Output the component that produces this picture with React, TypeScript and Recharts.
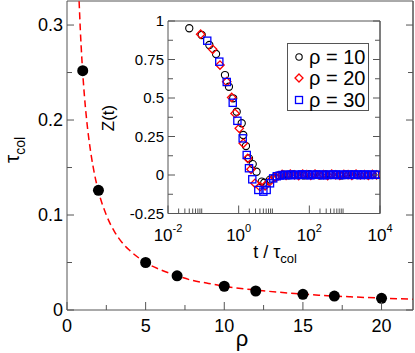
import React from "react";
import { ComposedChart, Scatter, Line, XAxis, YAxis, ReferenceLine } from "recharts";

const FONT = "'Liberation Sans', Arial, sans-serif";
const AXIS = "#555";

// main panel: collision time vs density
const rho = [1, 2, 5, 7, 10, 12, 15, 17, 20];
const tauCol = [0.252, 0.126, 0.05, 0.036, 0.025, 0.02, 0.0165, 0.0147, 0.0123];
const fitRho = [0.77, 0.85, 0.95, 1.1, 1.25, 1.5, 1.75, 2, 2.5, 3, 3.5, 4, 5, 6, 7, 8, 9, 10, 12, 14, 16, 18, 20, 22];
const fitTau = [0.325, 0.294, 0.263, 0.227, 0.2, 0.167, 0.143, 0.125, 0.1, 0.083, 0.071, 0.0625, 0.05, 0.042, 0.036, 0.031, 0.028, 0.025, 0.021, 0.018, 0.0156, 0.0139, 0.0125, 0.0114];
const mainXTicks = [0, 2.5, 5, 7.5, 10, 12.5, 15, 17.5, 20];
const mainYTicks = [0, 0.05, 0.1, 0.15, 0.2, 0.25, 0.3];
const Y_MAX = 0.3253;
const X_MAX = 22;

// inset: Z(t) for three densities
const t10 = [0.04, 0.09, 0.148, 0.229, 0.41, 0.53, 0.7, 0.88, 1.22, 1.35, 1.61, 1.96, 2.5, 3.2, 4.5, 5.3, 7.7, 10.7, 14, 19, 26, 36, 50, 70, 100, 140, 200, 290, 400, 560, 800, 1100, 1600, 2200, 3100, 4400, 6200, 8500];
const z10 = [0.953, 0.909, 0.844, 0.786, 0.649, 0.573, 0.498, 0.411, 0.336, 0.26, 0.188, 0.108, 0.071, 0.021, -0.043, -0.05, -0.03, -0.012, -0.004, 0.003, -0.002, 0.004, 0.001, -0.003, 0.005, 0.002, -0.002, 0.004, 0.0, 0.003, -0.003, 0.002, 0.004, -0.001, 0.003, 0.0, 0.002, 0.001];
const t20 = [0.084, 0.184, 0.296, 0.46, 0.635, 0.79, 1.04, 1.35, 1.8, 2.23, 2.9, 4.0, 5.6, 7.7, 10.7, 13, 17, 22, 29, 38, 50, 65, 85, 110, 145, 190, 250, 330, 430, 560, 730, 950, 1250, 1600, 2100, 2800, 3600, 4700, 6100, 8000];
const z20 = [0.914, 0.816, 0.714, 0.606, 0.504, 0.4, 0.303, 0.206, 0.108, 0.037, -0.054, -0.076, -0.07, -0.04, -0.015, -0.006, 0.004, -0.003, 0.006, 0.001, -0.004, 0.005, 0.002, -0.002, 0.006, 0.0, 0.003, -0.004, 0.005, 0.001, -0.002, 0.004, 0.002, -0.003, 0.005, 0.0, 0.003, -0.002, 0.004, 0.001];
const t30 = [0.129, 0.283, 0.46, 0.68, 0.92, 1.3, 1.69, 1.96, 2.43, 3.6, 5.0, 6.2, 7.7, 9.5, 12, 14.5, 17.5, 21, 25, 30, 36, 43, 52, 62, 75, 90, 108, 130, 156, 187, 225, 270, 324, 389, 467, 560, 672, 806, 968, 1160, 1390, 1670, 2000, 2400, 2890, 3470, 4160, 5000, 6000, 7200, 8600];
const z30 = [0.872, 0.736, 0.604, 0.469, 0.352, 0.238, 0.13, 0.044, -0.028, -0.097, -0.108, -0.097, -0.054, -0.022, -0.008, -0.004, 0.0, 0.002, -0.002, 0.003, 0.001, -0.001, 0.002, 0.004, 0.0, 0.002, -0.002, 0.003, 0.001, 0.004, 0.0, -0.002, 0.003, 0.002, 0.0, 0.004, 0.001, -0.001, 0.003, 0.002, 0.0, 0.003, 0.001, 0.004, -0.001, 0.002, 0.003, 0.0, 0.002, 0.001, 0.002];
const insetXMajor = [0.01, 1, 100, 10000];
const insetXMinor = [0.02, 0.03, 0.04, 0.05, 0.06, 0.07, 0.08, 0.09, 2, 3, 4, 5, 6, 7, 8, 9, 200, 300, 400, 500, 600, 700, 800, 900];
const insetYTicks = [-0.25, -0.125, 0, 0.125, 0.25, 0.375, 0.5, 0.625, 0.75, 0.875, 1];
const insetYLabels: Record<string, string> = { "-0.25": "-0.25", "0": "0", "0.25": "0.25", "0.5": "0.5", "0.75": "0.75", "1": "1" };

const zip = (xs: number[], ys: number[]) => xs.map((x, i) => ({ x, y: ys[i] }));
const dotData = zip(rho, tauCol);
const fitData = zip(fitRho, fitTau);
const s10 = zip(t10, z10);
const s20 = zip(t20, z20);
const s30 = zip(t30, z30);

const MainXTick = ({ x, y, payload }: any) => {
  const major = payload.value % 5 === 0;
  return (
    <g>
      <line x1={x} x2={x} y1={y} y2={y - (major ? 8 : 5)} stroke={AXIS} />
      {major && (
        <text x={x} y={y + 22} textAnchor="middle" fontSize={18} fontFamily={FONT} fill="#000">
          {payload.value}
        </text>
      )}
    </g>
  );
};

const MainYTick = ({ x, y, payload }: any) => {
  const major = Math.round(payload.value * 100) % 10 === 0;
  return (
    <g>
      <line x1={x} x2={x + (major ? 7 : 5)} y1={y} y2={y} stroke={AXIS} />
      {major && (
        <text x={x - 4} y={y} dy="0.35em" textAnchor="end" fontSize={18} fontFamily={FONT} fill="#000">
          {payload.value}
        </text>
      )}
    </g>
  );
};

const MainRightTick = ({ x, y, payload }: any) => {
  const major = Math.round(payload.value * 100) % 10 === 0;
  return <line x1={x} x2={x - (major ? 7 : 5)} y1={y} y2={y} stroke={AXIS} />;
};

const InsetXTick = ({ x, y, payload }: any) => {
  const lg = Math.log10(payload.value);
  const major = Math.abs(lg - Math.round(lg)) < 1e-6 && Math.round(lg) % 2 === 0;
  return (
    <g>
      <line x1={x} x2={x} y1={y} y2={y - (major ? 8 : 5)} stroke={AXIS} />
      {major && (
        <text x={x} y={y + 27} textAnchor="middle" fontSize={17} fontFamily={FONT} fill="#000">
          10
          <tspan dy={-9} fontSize={11}>
            {Math.round(lg)}
          </tspan>
        </text>
      )}
    </g>
  );
};

const InsetYTick = ({ x, y, payload }: any) => {
  const label = insetYLabels[String(payload.value)];
  return (
    <g>
      <line x1={x} x2={x + (label ? 7 : 5)} y1={y} y2={y} stroke={AXIS} />
      {label && (
        <text x={x - 4} y={y} dy="0.35em" textAnchor="end" fontSize={15} fontFamily={FONT} fill="#000">
          {label}
        </text>
      )}
    </g>
  );
};

const InsetRightTick = ({ x, y, payload }: any) => {
  const label = insetYLabels[String(payload.value)];
  return <line x1={x} x2={x - (label ? 7 : 5)} y1={y} y2={y} stroke={AXIS} />;
};

const BigDot = (p: any) => <circle cx={p.cx} cy={p.cy} r={5.5} fill="#000" />;
const OpenCircle = (p: any) => <circle cx={p.cx} cy={p.cy} r={3.6} fill="none" stroke="#000" strokeWidth={1.1} />;
const OpenDiamond = (p: any) => (
  <path
    d={`M${p.cx},${p.cy - 4.2}L${p.cx + 4.2},${p.cy}L${p.cx},${p.cy + 4.2}L${p.cx - 4.2},${p.cy}Z`}
    fill="none"
    stroke="#ff0000"
    strokeWidth={1.3}
  />
);
const OpenSquare = (p: any) => (
  <rect x={p.cx - 3.6} y={p.cy - 3.6} width={7.2} height={7.2} fill="none" stroke="#0000ff" strokeWidth={1.3} />
);
const Nothing = () => <g />;

const legendRows = [
  { label: "ρ = 10", symbol: <circle cx={6} cy={6} r={3.2} fill="none" stroke="#000" strokeWidth={1.1} /> },
  { label: "ρ = 20", symbol: <path d="M6,2L10,6L6,10L2,6Z" fill="none" stroke="#ff0000" strokeWidth={1.3} /> },
  { label: "ρ = 30", symbol: <rect x={2.5} y={2.5} width={7} height={7} fill="none" stroke="#0000ff" strokeWidth={1.3} /> },
];

export default function App() {
  return (
    <div style={{ position: "absolute", left: 0, top: 0, width: 415, height: 353, background: "#fff", fontFamily: FONT }}>
      <div style={{ position: "absolute", left: 0, top: 0 }}>
        <ComposedChart width={415} height={353} margin={{ top: 1, right: 1, left: 7, bottom: 0 }}>
          <XAxis
            type="number"
            dataKey="x"
            domain={[0, X_MAX]}
            ticks={mainXTicks}
            interval={0}
            height={43}
            tick={<MainXTick />}
            tickLine={false}
            tickSize={0}
            tickMargin={0}
            stroke={AXIS}
            allowDataOverflow
          />
          <YAxis
            type="number"
            dataKey="y"
            domain={[0, Y_MAX]}
            ticks={mainYTicks}
            interval={0}
            width={60}
            tick={<MainYTick />}
            tickLine={false}
            tickSize={0}
            tickMargin={0}
            stroke={AXIS}
            allowDataOverflow
          />
          <YAxis
            yAxisId="r"
            orientation="right"
            type="number"
            domain={[0, Y_MAX]}
            ticks={mainYTicks}
            interval={0}
            width={1}
            tick={<MainRightTick />}
            tickLine={false}
            tickSize={0}
            tickMargin={0}
            stroke={AXIS}
            allowDataOverflow
          />
          <ReferenceLine y={Y_MAX} stroke={AXIS} />
          <ReferenceLine x={X_MAX} stroke={AXIS} />
          <Scatter yAxisId="r" data={dotData} dataKey="y" shape={<Nothing />} isAnimationActive={false} />
          <Scatter data={dotData} dataKey="y" shape={<BigDot />} isAnimationActive={false} />
          <Line
            data={fitData}
            dataKey="y"
            type="monotone"
            stroke="#ff0000"
            strokeWidth={1.5}
            strokeDasharray="7 4"
            dot={false}
            activeDot={false}
            isAnimationActive={false}
          />
        </ComposedChart>
      </div>

      <div style={{ position: "absolute", left: 95, top: 5 }}>
        <ComposedChart width={300} height={260} margin={{ top: 16, right: 14, left: 0, bottom: 0 }}>
          <XAxis
            type="number"
            dataKey="x"
            scale="log"
            domain={[0.01, 10000]}
            ticks={[...insetXMajor, ...insetXMinor]}
            interval={0}
            height={51.5}
            tick={<InsetXTick />}
            tickLine={false}
            tickSize={0}
            tickMargin={0}
            stroke={AXIS}
            allowDataOverflow
          />
          <YAxis
            type="number"
            dataKey="y"
            domain={[-0.25, 1]}
            ticks={insetYTicks}
            interval={0}
            width={73}
            tick={<InsetYTick />}
            tickLine={false}
            tickSize={0}
            tickMargin={0}
            stroke={AXIS}
            allowDataOverflow
          />
          <YAxis
            yAxisId="r"
            orientation="right"
            type="number"
            domain={[-0.25, 1]}
            ticks={insetYTicks}
            interval={0}
            width={1}
            tick={<InsetRightTick />}
            tickLine={false}
            tickSize={0}
            tickMargin={0}
            stroke={AXIS}
            allowDataOverflow
          />
          <ReferenceLine y={1} stroke={AXIS} />
          <ReferenceLine x={10000} stroke={AXIS} />
          <Scatter yAxisId="r" data={s10} dataKey="y" shape={<Nothing />} isAnimationActive={false} />
          <Scatter data={s10} dataKey="y" shape={<OpenCircle />} isAnimationActive={false} />
          <Scatter data={s20} dataKey="y" shape={<OpenDiamond />} isAnimationActive={false} />
          <Scatter data={s30} dataKey="y" shape={<OpenSquare />} isAnimationActive={false} />
        </ComposedChart>
      </div>

      <div
        style={{
          position: "absolute",
          left: 287,
          top: 43,
          width: 82,
          height: 68,
          border: `1px solid ${AXIS}`,
          background: "#fff",
          boxSizing: "border-box",
          paddingTop: 2,
        }}
      >
        {legendRows.map((r) => (
          <div key={r.label} style={{ display: "flex", alignItems: "center", height: 21.5, fontSize: 20, color: "#000" }}>
            <svg width={12} height={12} style={{ marginLeft: 5, marginRight: 4 }}>
              {r.symbol}
            </svg>
            <span style={{ lineHeight: "20px" }}>{r.label}</span>
          </div>
        ))}
      </div>

      <svg width={415} height={353} style={{ position: "absolute", left: 0, top: 0, pointerEvents: "none" }}>
        <text transform="translate(19,150) rotate(-90)" textAnchor="middle" fontSize={21} fontFamily={FONT} fill="#000">
          τ
          <tspan dy={6} fontSize={14}>
            col
          </tspan>
        </text>
        <text x={242} y={346} textAnchor="middle" fontSize={22} fontFamily={FONT} fill="#000">
          ρ
        </text>
        <text transform="translate(114,118) rotate(-90)" textAnchor="middle" fontSize={17} fontFamily={FONT} fill="#000">
          Z(t)
        </text>
        <text x={275} y={258} textAnchor="middle" fontSize={18} fontFamily={FONT} fill="#000">
          t / τ
          <tspan dy={5} fontSize={13}>
            col
          </tspan>
        </text>
      </svg>
    </div>
  );
}
